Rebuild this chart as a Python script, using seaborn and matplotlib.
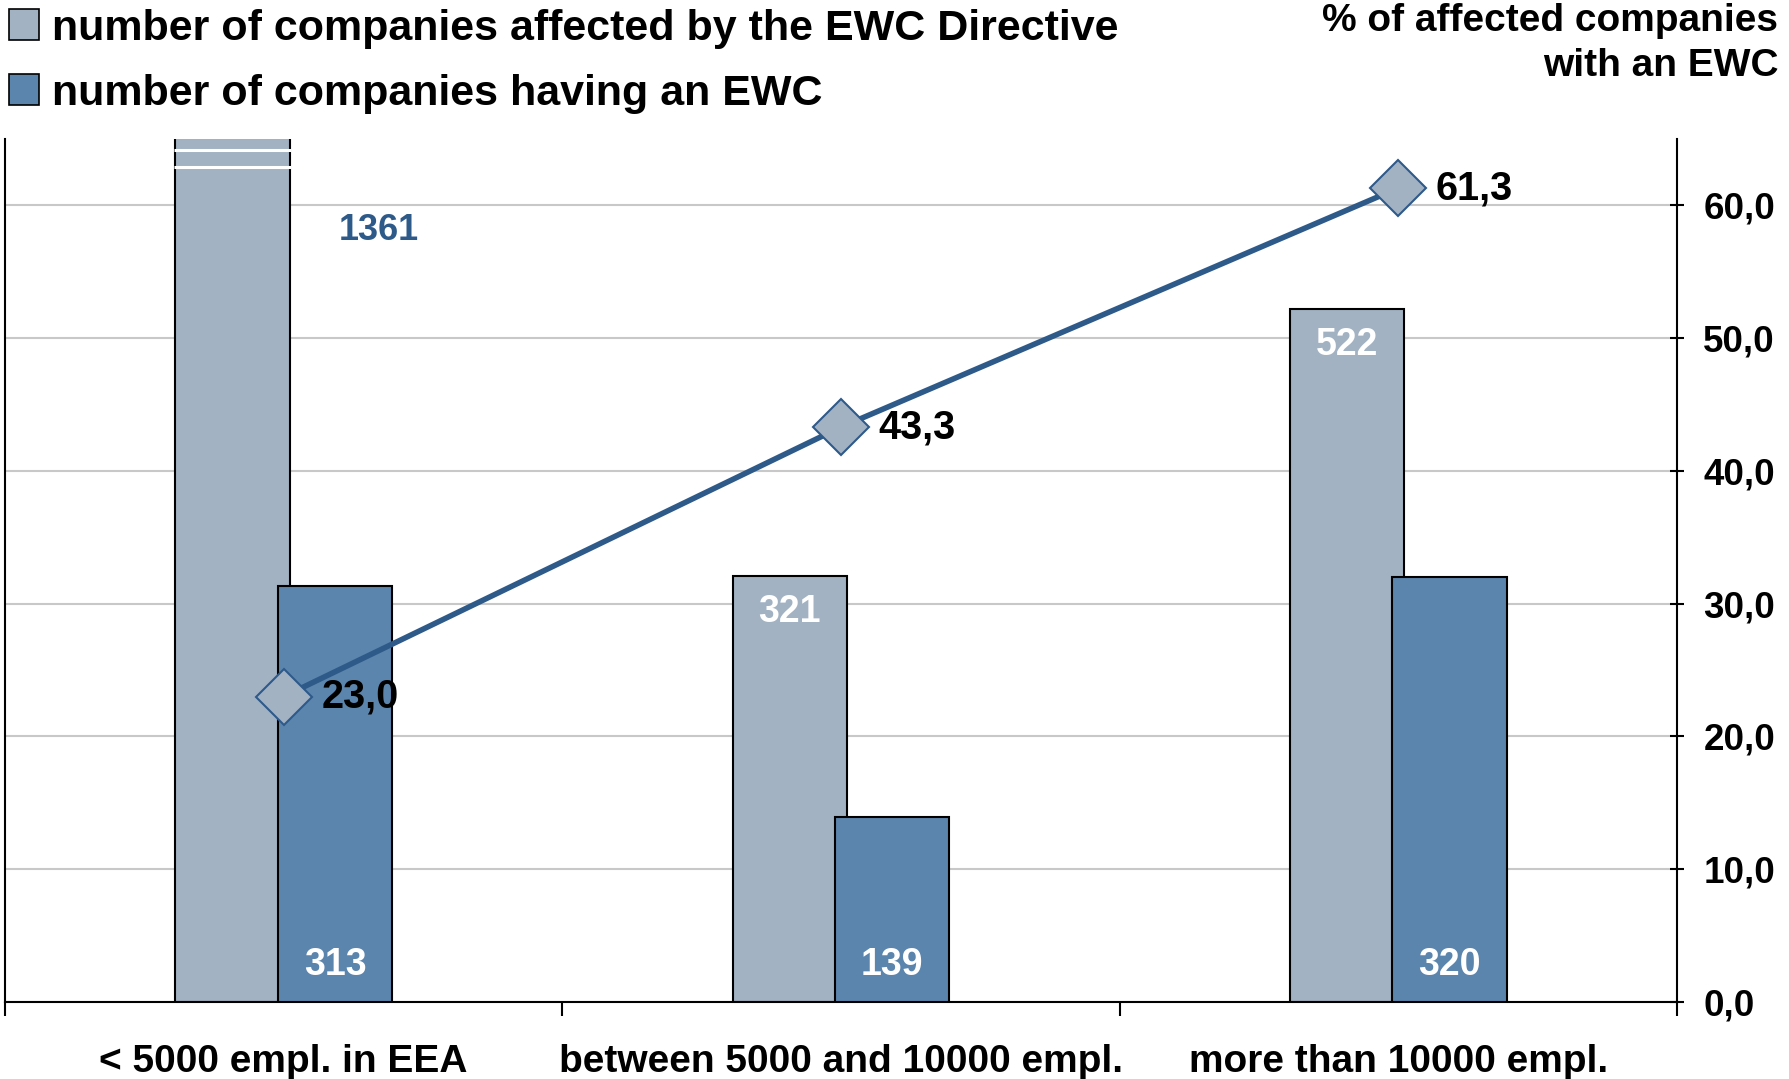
import numpy as np
import pandas as pd
import seaborn as sns
import matplotlib.pyplot as plt
from matplotlib.patches import Patch

categories = ["< 5000 empl. in EEA", "between 5000 and 10000 empl.", "more than 10000 empl."]
affected = [1361, 321, 522]
having_ewc = [313, 139, 320]
pct_with_ewc = [23.0, 43.3, 61.3]

light = "#a2b2c3"
dark = "#5b85ad"
line_col = "#2e5a8a"

plt.rcParams['font.family'] = ['Liberation Sans', 'DejaVu Sans']
plt.rcParams['font.weight'] = 'bold'

fig = plt.figure(figsize=(17.89, 10.79), dpi=100)
ax = fig.add_axes([0.0028, 0.0714, 0.9346, 0.7998])

x = np.arange(len(categories))
w = 0.205
off = 0.092
YMAX = 65

# bars are drawn on the percentage scale (count / 10)
aff_h = np.array(affected) / 10
ewc_h = np.array(having_ewc) / 10
ax.bar(x - off, aff_h, width=w, color=light, edgecolor="black", linewidth=1.5, zorder=2)
ax.bar(x + off, ewc_h, width=w, color=dark, edgecolor="black", linewidth=1.5, zorder=3)

# break marks on the truncated first bar
for yb in (64.2, 62.9):
    ax.hlines(yb, x[0] - off - w / 2 - 0.003, x[0] - off + w / 2 + 0.003, color="white", linewidth=2.2, zorder=4)

df = pd.DataFrame({"x": x, "pct": pct_with_ewc})
sns.lineplot(data=df, x="x", y="pct", ax=ax, color=line_col, linewidth=4,
             marker="D", markersize=29, markerfacecolor=light, markeredgecolor=line_col,
             markeredgewidth=1.5, zorder=5)

for xi, v in zip(x, pct_with_ewc):
    ax.annotate(f"{v:.1f}".replace(".", ","), (xi, v), xytext=(27, 0), textcoords="offset points",
                ha="left", va="center", fontsize=28.5, fontweight="bold", color="black", zorder=6)

# bar labels
for xi, v, h in zip(x, affected, aff_h):
    if h > YMAX:
        ax.text(xi + 0.17, 58.1, str(v), ha="center", va="center", fontsize=26, fontweight="bold", color=line_col, zorder=6)
    else:
        ax.text(xi - off, h - 2.7, str(v), ha="center", va="center", fontsize=27, fontweight="bold", color="white", zorder=6)
for xi, v in zip(x, having_ewc):
    ax.text(xi + off, 2.75, str(v), ha="center", va="center", fontsize=27, fontweight="bold", color="white", zorder=6)

ax.set_xlim(-0.5, 2.5)
ax.set_ylim(0, YMAX)
ax.set_xlabel("")
ax.set_ylabel("")

ax.set_xticks([-0.5, 0.5, 1.5, 2.5])
ax.set_xticklabels([])
ax.set_xticks(x, minor=True)
ax.set_xticklabels(categories, minor=True)
ax.tick_params(axis="x", which="major", direction="out", length=10, width=1.5)
ax.tick_params(axis="x", which="minor", length=0, pad=30, labelsize=28)

ax.yaxis.tick_right()
ax.set_yticks(np.arange(0, 61, 10))
ax.set_yticklabels([f"{t:.1f}".replace(".", ",") for t in np.arange(0, 61, 10)])
ax.tick_params(axis="y", direction="inout", length=10, width=1.5, pad=14, labelsize=26.5)
ax.yaxis.grid(True, color="#c8c8c8", linewidth=1.5, zorder=0)
ax.set_axisbelow(True)

for s in ("left", "right", "bottom"):
    ax.spines[s].set_linewidth(1.5)
ax.spines["top"].set_visible(False)

handles = [Patch(facecolor=light, edgecolor="black", linewidth=1.2),
           Patch(facecolor=dark, edgecolor="black", linewidth=1.2)]
fig.legend(handles, ["number of companies affected by the EWC Directive",
                     "number of companies having an EWC"],
           loc="upper left", bbox_to_anchor=(0.005, 0.992), frameon=False, fontsize=31,
           handlelength=0.7, handleheight=0.7, handletextpad=0.3, labelspacing=0.58,
           borderpad=0.0, borderaxespad=0)

fig.text(0.994, 0.997, "% of affected companies\nwith an EWC", ha="right", va="top",
         fontsize=28, fontweight="bold", linespacing=1.3)

fig.savefig("out.png", dpi=100)
